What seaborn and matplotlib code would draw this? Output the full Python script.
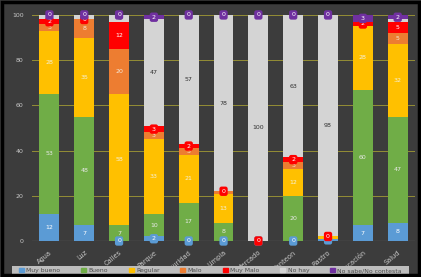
import numpy as np
import matplotlib
matplotlib.use("Agg")
import matplotlib.pyplot as plt
import seaborn as sns

# datos
categorias = ['Agua', 'Luz', 'Calles', 'Parque', 'Seguridad', 'Limpia',
              'Mercado', 'Panteon', 'Rastro', 'Educación', 'Salud']
series = ['Muy bueno', 'Bueno', 'Regular', 'Malo', 'Muy Malo', 'No hay',
          'No sabe/No contesta']
muy_bueno = [12, 7, 0, 2, 0, 0, 0, 0, 1, 7, 8]
bueno = [53, 48, 7, 10, 17, 8, 0, 20, 0, 60, 47]
regular = [28, 35, 58, 33, 21, 13, 0, 12, 1, 28, 32]
malo = [3, 8, 20, 3, 3, 1, 0, 3, 0, 0, 5]
muy_malo = [2, 0, 12, 3, 2, 0, 0, 2, 0, 2, 5]
no_hay = [2, 2, 3, 47, 57, 78, 100, 63, 98, 0, 1]
no_sabe = [0, 0, 0, 2, 0, 0, 0, 0, 0, 3, 2]

valores = [muy_bueno, bueno, regular, malo, muy_malo, no_hay, no_sabe]
colores = ['#5b9bd5', '#70ad47', '#ffc000', '#ed7d31', '#ff0000', '#d4d4d4', '#7030a0']
caja = [True, False, False, False, True, False, True]
color_txt = ['white', '#e8e8e8', '#f4f0d8', '#f4e8d8', 'white', '#303030', 'white']

fondo = '#3c3c3c'
fig = plt.figure(figsize=(4.21, 2.77), dpi=100, facecolor=fondo)
ax = fig.add_axes([0.076, 0.130, 0.910, 0.816])
ax.set_facecolor(fondo)

base = np.zeros(len(categorias))
pos = []
for vals, col in zip(valores, colores):
    v = np.array(vals, dtype=float)
    sns.barplot(x=categorias, y=v, bottom=base, color=col, width=0.57,
                errorbar=None, saturation=1, ax=ax, zorder=2)
    pos.append(base + v / 2)
    base = base + v

# etiquetas de datos
for k, vals in enumerate(valores):
    for i, v in enumerate(vals):
        y = pos[k][i]
        if caja[k]:
            ax.text(i, y, str(v), ha='center', va='center', fontsize=4.5,
                    color='white', zorder=4 + k, clip_on=False,
                    bbox=dict(boxstyle='round,pad=0.35', fc=colores[k],
                              ec='none'))
        elif v >= 3:
            ax.text(i, y, str(v), ha='center', va='center', fontsize=4.5,
                    color=color_txt[k], zorder=3)

ax.set_ylim(0, 100)
ax.set_xlim(-0.5, len(categorias) - 0.5)
ax.set_yticks(range(0, 101, 20))
ax.yaxis.grid(True, color='#948e35', linewidth=0.7, zorder=0)
ax.axhline(0, color='#9a9a9a', linewidth=0.8, zorder=1)
ax.set_axisbelow(True)
for s in ax.spines.values():
    s.set_visible(False)
ax.tick_params(axis='both', length=0, colors='#c8c8c8', labelsize=4.5, pad=6)
ax.tick_params(axis='x', pad=6, labelsize=4.8)
plt.setp(ax.get_xticklabels(), rotation=40, ha='right', rotation_mode='anchor')
ax.set_xlabel('')
ax.set_ylabel('')

# franja gris de la leyenda
fig.patches.append(plt.Rectangle((0.028, 0.008), 0.944, 0.030,
                                 transform=fig.transFigure, fc='#bdbdbd',
                                 ec='none', zorder=0))
handles = [plt.Rectangle((0, 0), 1, 1, color=c) for c in colores]
leg = fig.legend(handles, series, loc='center', ncol=7,
                 bbox_to_anchor=(0.5, 0.023), fontsize=4.4, frameon=False,
                 handlelength=0.8, handleheight=0.6, columnspacing=3.4,
                 handletextpad=0.4, borderpad=0.0)
for t in leg.get_texts():
    t.set_color('#4a4a4a')

# marco negro
fig.patches.append(plt.Rectangle((0.004, 0.006), 0.992, 0.988,
                                 transform=fig.transFigure, fill=False,
                                 ec='black', lw=2.5))

fig.savefig('out.png', dpi=100, facecolor=fondo)
